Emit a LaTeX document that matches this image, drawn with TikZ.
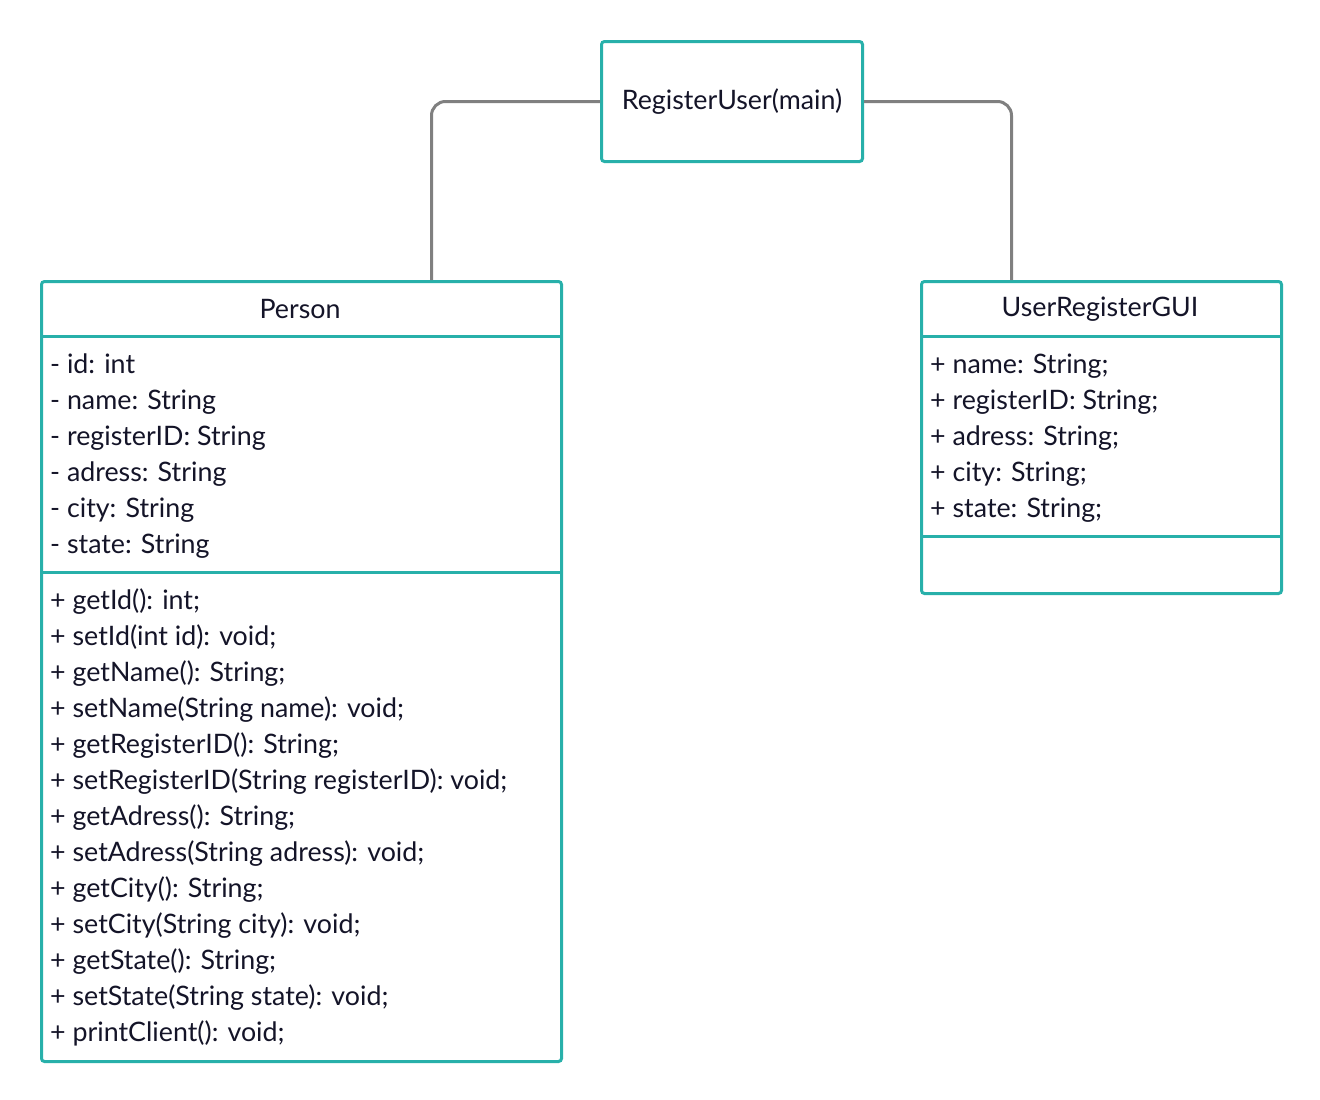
\documentclass[tikz,border=0pt]{standalone}
\usepackage{fontspec}
\setmainfont{Lato}
\usepackage{tikz}
\definecolor{umlteal}{RGB}{40,176,170}
\definecolor{umlgray}{RGB}{128,128,128}
\definecolor{umltext}{RGB}{20,20,40}

\begin{document}
\begin{tikzpicture}[x=1pt,y=-1pt,
    box/.style={draw=umlteal, line width=3pt, rounded corners=3pt, anchor=north west, inner sep=0pt},
    sep/.style={draw=umlteal, line width=3pt},
    conn/.style={draw=umlgray, line width=3pt, rounded corners=14pt},
    member/.style={anchor=mid west, inner sep=0pt, text=umltext},
    title/.style={inner sep=0pt, text=umltext}]
    \useasboundingbox[fill=white] (0,0) rectangle (1320,1100);
    \fontsize{26.8}{32}\selectfont

    % Main class
    \node[box, minimum width=261pt, minimum height=120pt, text=umltext] (main) at (600,40) {RegisterUser(main)};

    % Person class
    \node[box, minimum width=520pt, minimum height=780pt] (person) at (40,280) {};
    \node[title] (person-name) at (300,309) {Person};
    \draw[sep] ([yshift=-56pt]person.north west) -- ([yshift=-56pt]person.north east);
    \draw[sep] ([yshift=-292pt]person.north west) -- ([yshift=-292pt]person.north east);
    \foreach \txt [count=\i] in {- id: int, - name: String, - registerID: String,
        - adress: String, - city: String, - state: String}
        \node[member] (person-attr-\i) at (50,{331+36*\i}) {\txt};
    \foreach \txt [count=\i] in {+ getId(): int;, + setId(int id): void;,
        + getName(): String;, + setName(String name): void;,
        + getRegisterID(): String;, + setRegisterID(String registerID): void;,
        + getAdress(): String;, + setAdress(String adress): void;,
        + getCity(): String;, + setCity(String city): void;,
        + getState(): String;, + setState(String state): void;,
        + printClient(): void;}
        \node[member] (person-op-\i) at (50,{567+36*\i}) {\txt};

    % GUI class
    \node[box, minimum width=360pt, minimum height=312pt] (gui) at (920,280) {};
    \node[title] (gui-name) at (1100,309) {UserRegisterGUI};
    \draw[sep] ([yshift=-56pt]gui.north west) -- ([yshift=-56pt]gui.north east);
    \draw[sep] ([yshift=-256pt]gui.north west) -- ([yshift=-256pt]gui.north east);
    \foreach \txt [count=\i] in {+ name: String;, + registerID: String;,
        + adress: String;, + city: String;, + state: String;}
        \node[member] (gui-attr-\i) at (930,{331+36*\i}) {\txt};

    % Connectors
    \draw[conn] (main.west) -| ([xshift=130pt]person.north);
    \draw[conn] (main.east) -| ([xshift=-90pt]gui.north);
\end{tikzpicture}
\end{document}
